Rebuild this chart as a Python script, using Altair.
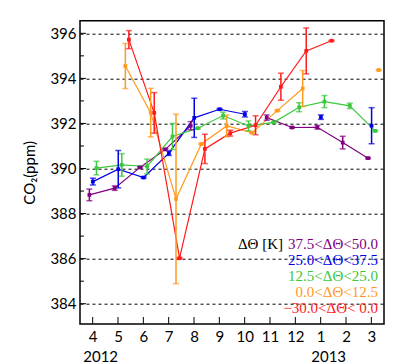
import altair as alt
import pandas as pd

# ---------------- data ----------------
month_ticks = [4, 5, 6, 7, 8, 9, 10, 11, 12, 13, 14, 15]
month_labels = ["4", "5", "6", "7", "8", "9", "10", "11", "12", "1", "2", "3"]
years = ["2012", "2013"]
year_months = [4, 13]
y_major = [384, 386, 388, 390, 392, 394, 396]
y_minor = [385, 387, 389, 391, 393, 395]

legend_title = "ΔΘ [K]"
series_names = ["37.5<ΔΘ<50.0", "25.0<ΔΘ<37.5", "12.5<ΔΘ<25.0", "0.0<ΔΘ<12.5", "−30.0<ΔΘ< 0.0"]
colors = ["#800080", "#0000e6", "#3cc83c", "#ff9a1e", "#ff1a1a"]

purple_months = [4, 5, 6, 7, 8, 11, 12, 13, 14, 15]
purple_co2 = [388.83, 389.13, 390.05, 390.85, 391.9, 392.26, 391.82, 391.83, 391.15, 390.46]
purple_err = [0.26, 0.10, 0.03, 0.03, 0.18, 0.12, 0.03, 0.08, 0.28, 0.03]
purple_seg = [0, 0, 0, 0, 0, 1, 1, 1, 1, 1]

blue_months = [4, 5, 6, 7, 8, 9, 10, 13, 15]
blue_co2 = [389.42, 389.97, 389.60, 390.68, 392.25, 392.63, 392.41, 392.28, 391.90]
blue_err = [0.15, 0.83, 0.03, 0.10, 0.87, 0.03, 0.12, 0.10, 0.80]
blue_seg = [0, 0, 0, 0, 0, 0, 0, 1, 2]

green_months = [4, 5, 6, 7, 8, 9, 10, 11, 12, 13, 14, 15]
green_co2 = [390.02, 390.16, 390.09, 391.42, 391.79, 392.35, 391.89, 392.05, 392.72, 392.97, 392.78, 391.67]
green_err = [0.30, 0.50, 0.33, 0.58, 0.03, 0.15, 0.22, 0.03, 0.20, 0.27, 0.12, 0.03]
green_seg = [0] * 12

orange_months = [5, 6, 7, 8, 9, 10, 11, 12, 15]
orange_co2 = [394.55, 392.48, 388.65, 391.09, 391.89, 391.59, 392.57, 393.55, 394.37]
orange_err = [1.00, 1.08, 3.76, 0.03, 0.48, 0.03, 0.03, 0.80, 0.02]
orange_seg = [0, 0, 0, 0, 0, 0, 0, 0, 1]

red_months = [5, 6, 7, 8, 9, 10, 11, 12, 13]
red_co2 = [395.72, 392.47, 386.02, 390.87, 391.57, 391.92, 393.63, 395.22, 395.67]
red_err = [0.40, 0.90, 0.03, 0.65, 0.13, 0.42, 0.60, 1.02, 0.02]
red_seg = [0] * 9

# horizontal shift of each series inside its month (style)
x_shift = [-0.13, 0.01, 0.15, 0.29, 0.43]

groups = [
    (purple_months, purple_co2, purple_err, purple_seg),
    (blue_months, blue_co2, blue_err, blue_seg),
    (green_months, green_co2, green_err, green_seg),
    (orange_months, orange_co2, orange_err, orange_seg),
    (red_months, red_co2, red_err, red_seg),
]
rows = []
for i, (ms, vs, es, ss) in enumerate(groups):
    for m, v, e, s in zip(ms, vs, es, ss):
        rows.append({"series": series_names[i], "month": m, "co2": v, "err": e,
                     "seg": f"{i}-{s}", "x": m + x_shift[i]})
df = pd.DataFrame(rows)
df["lo"] = df["co2"] - df["err"]
df["hi"] = df["co2"] + df["err"]

W, H = 304, 303.3
FONT = "Lato"

xscale = alt.Scale(domain=[3.5, 15.5], nice=False, zero=False)
yscale = alt.Scale(domain=[383.1, 396.56], nice=False, zero=False)
label_arr = "[" + ",".join(f"'{l}'" for l in month_labels) + "]"
xaxis = alt.Axis(values=month_ticks, labelExpr=f"{label_arr}[datum.value - 4]",
                 ticks=False, domain=False, grid=False, title=None,
                 labelFontSize=15, labelFont=FONT, labelColor="black", labelPadding=5)
yaxis = alt.Axis(values=y_major, ticks=False, domain=False, grid=True,
                 gridDash=[3, 3], gridColor="black", gridWidth=1, gridOpacity=1,
                 labelFontSize=15, labelFont=FONT, labelColor="black", labelPadding=4,
                 title="CO₂(ppm)", titleFontSize=15, titleFont=FONT, titleFontWeight="normal",
                 titleColor="black", titlePadding=12)

color = alt.Color("series:N", scale=alt.Scale(domain=series_names, range=colors), legend=None)
X = alt.X("x:Q", scale=xscale, axis=xaxis)
Y = alt.Y("co2:Q", scale=yscale, axis=yaxis)

base = alt.Chart(df)
lines = base.mark_line(strokeWidth=1.2).encode(x=X, y=Y, color=color, detail="seg:N")
bars = base.mark_rule(strokeWidth=1.5).encode(
    x=X, y=alt.Y("lo:Q", scale=yscale, axis=yaxis), y2="hi:Q", color=color)
caps_lo = base.mark_tick(orient="horizontal", size=6, thickness=1.5).encode(
    x=X, y=alt.Y("lo:Q", scale=yscale, axis=yaxis), color=color)
caps_hi = base.mark_tick(orient="horizontal", size=6, thickness=1.5).encode(
    x=X, y=alt.Y("hi:Q", scale=yscale, axis=yaxis), color=color)
points = base.mark_square(size=14, opacity=1).encode(x=X, y=Y, color=color)

# inward axis ticks
ymaj = alt.Chart(pd.DataFrame({"v": y_major})).mark_rule(color="black", strokeWidth=1).encode(
    x=alt.value(0), x2=alt.value(6), y=alt.Y("v:Q", scale=yscale, axis=yaxis))
ymin = alt.Chart(pd.DataFrame({"v": y_minor})).mark_rule(color="black", strokeWidth=1).encode(
    x=alt.value(0), x2=alt.value(4), y=alt.Y("v:Q", scale=yscale, axis=yaxis))
xticks = alt.Chart(pd.DataFrame({"m": month_ticks})).mark_rule(color="black", strokeWidth=1).encode(
    x=alt.X("m:Q", scale=xscale, axis=xaxis), y=alt.value(H), y2=alt.value(H - 7))

# year labels under the month labels
year_df = pd.DataFrame({"m": year_months, "t": years})
year_text = alt.Chart(year_df).mark_text(fontSize=15, font=FONT, color="black", dx=8,
                                         align="center", baseline="alphabetic").encode(
    x=alt.X("m:Q", scale=xscale, axis=xaxis), y=alt.value(H + 37.5), text="t:N")

# legend as text
leg_df = pd.DataFrame({"series": series_names, "i": list(range(len(series_names)))})
leg_text = alt.Chart(leg_df).transform_calculate(ypix="223.5 + 16 * datum.i").mark_text(
    fontSize=15, font="Liberation Serif", align="right", baseline="middle").encode(
    x=alt.value(298), y=alt.Y("ypix:Q", scale=None), text="series:N", color=color)
leg_title = alt.Chart(pd.DataFrame({"t": [legend_title]})).mark_text(
    fontSize=15, font="Liberation Serif", align="right", baseline="middle", color="black").encode(
    x=alt.value(203), y=alt.value(223.5), text="t:N")

chart = alt.layer(ymaj, ymin, xticks, lines, bars, caps_lo, caps_hi, points,
                  year_text, leg_text, leg_title).properties(
    width=W, height=H,
    autosize=alt.AutoSizeParams(type="none"),
    padding={"left": 72, "top": 12.7, "right": 12, "bottom": 39},
    background="white",
).configure_view(stroke="black", strokeWidth=1.5)

chart.save("out.html", embed_options={"renderer": "svg", "actions": False})
